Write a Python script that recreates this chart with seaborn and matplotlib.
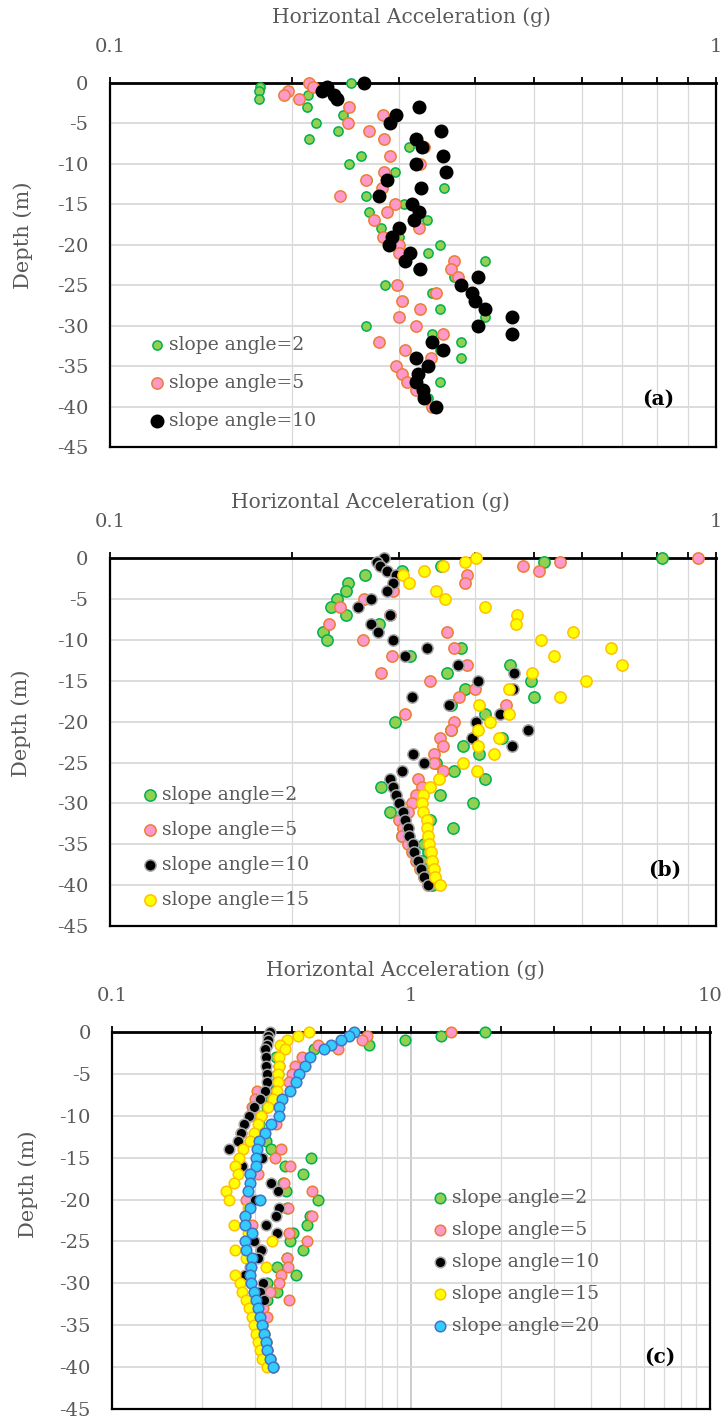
import numpy as np
import pandas as pd
import matplotlib
matplotlib.use("Agg")
import matplotlib.pyplot as plt
from matplotlib.ticker import LogLocator, FuncFormatter, MultipleLocator, NullFormatter
import seaborn as sns

# ---------------------------------------------------------------- data
# depth (m) shared by every profile
depth = [0, -0.5, -1, -1.5, -2] + list(range(-3, -41, -1))

# (a) horizontal acceleration (g)
acc_a_2 = [0.25, 0.177, 0.176, 0.212, 0.176, 0.211, 0.242, 0.219, 0.238, 0.213, 0.311, 0.26, 0.248,
           0.295, 0.266, 0.356, 0.265, 0.306, 0.268, 0.333, 0.28, 0.3, 0.35, 0.335, 0.415, 0.322,
           0.37, 0.284, 0.34, 0.305, 0.35, 0.415, 0.265, 0.34, 0.38, 0.35, 0.38, 0.335, 0.322,
           0.35, 0.32, 0.335, 0.345]
acc_a_5 = [0.213, 0.216, 0.197, 0.194, 0.205, 0.248, 0.282, 0.247, 0.268, 0.283, 0.33, 0.29, 0.325,
           0.283, 0.265, 0.281, 0.24, 0.295, 0.287, 0.273, 0.323, 0.282, 0.3, 0.3, 0.37, 0.365,
           0.375, 0.298, 0.345, 0.303, 0.325, 0.3, 0.32, 0.355, 0.278, 0.307, 0.338, 0.296, 0.303,
           0.309, 0.32, 0.33, 0.34]
acc_a_10 = [0.263, 0.228, 0.224, 0.234, 0.237, 0.323, 0.296, 0.29, 0.352, 0.32, 0.327, 0.355, 0.32,
            0.358, 0.287, 0.326, 0.278, 0.315, 0.323, 0.318, 0.3, 0.292, 0.289, 0.313, 0.307, 0.325,
            0.405, 0.38, 0.395, 0.4, 0.415, 0.46, 0.405, 0.46, 0.34, 0.355, 0.32, 0.335, 0.322,
            0.32, 0.328, 0.33, 0.345]

# (b)
acc_b_2 = [0.815, 0.52, 0.352, 0.303, 0.264, 0.247, 0.245, 0.237, 0.232, 0.245, 0.278, 0.225, 0.228,
           0.38, 0.313, 0.457, 0.36, 0.495, 0.386, 0.5, 0.365, 0.415, 0.295, 0.365, 0.443, 0.382,
           0.406, 0.345, 0.37, 0.415, 0.28, 0.35, 0.397, 0.29, 0.337, 0.368, 0.303, 0.33, 0.335,
           0.327, 0.333, 0.337, 0.34]
acc_b_5 = [0.935, 0.552, 0.48, 0.51, 0.388, 0.386, 0.293, 0.263, 0.24, 0.29, 0.23, 0.36, 0.262,
           0.37, 0.292, 0.388, 0.28, 0.337, 0.4, 0.377, 0.45, 0.307, 0.37, 0.365, 0.35, 0.355,
           0.342, 0.343, 0.355, 0.322, 0.327, 0.32, 0.315, 0.31, 0.3, 0.305, 0.303, 0.31, 0.315,
           0.32, 0.325, 0.33, 0.335]
acc_b_10 = [0.283, 0.276, 0.279, 0.287, 0.297, 0.293, 0.287, 0.27, 0.257, 0.29, 0.27, 0.277, 0.293,
            0.333, 0.307, 0.375, 0.465, 0.405, 0.462, 0.315, 0.362, 0.44, 0.402, 0.49, 0.395, 0.46,
            0.316, 0.33, 0.303, 0.29, 0.293, 0.296, 0.3, 0.305, 0.307, 0.31, 0.311, 0.316, 0.318,
            0.322, 0.326, 0.33, 0.335]
acc_b_15 = [0.402, 0.385, 0.355, 0.33, 0.305, 0.312, 0.345, 0.357, 0.415, 0.47, 0.468, 0.58, 0.515,
            0.671, 0.54, 0.699, 0.497, 0.61, 0.455, 0.553, 0.407, 0.456, 0.424, 0.405, 0.438, 0.405,
            0.43, 0.383, 0.403, 0.349, 0.337, 0.328, 0.327, 0.329, 0.333, 0.334, 0.335, 0.336,
            0.338, 0.34, 0.342, 0.344, 0.35]

# (c)
acc_c_2 = [1.77, 1.257, 0.956, 0.72, 0.472, 0.354, 0.36, 0.358, 0.356, 0.35, 0.34, 0.33, 0.315,
           0.31, 0.305, 0.328, 0.34, 0.463, 0.377, 0.433, 0.372, 0.38, 0.487, 0.385, 0.46, 0.447,
           0.402, 0.392, 0.433, 0.383, 0.355, 0.412, 0.329, 0.355, 0.33, 0.31, 0.315, 0.318,
           0.323, 0.327, 0.33, 0.338, 0.346]
acc_c_5 = [1.355, 0.712, 0.685, 0.488, 0.568, 0.43, 0.41, 0.4, 0.39, 0.305, 0.3, 0.294, 0.29,
           0.352, 0.269, 0.31, 0.368, 0.35, 0.392, 0.307, 0.374, 0.467, 0.281, 0.387, 0.467, 0.293,
           0.389, 0.447, 0.315, 0.384, 0.387, 0.366, 0.361, 0.337, 0.391, 0.32, 0.329, 0.318,
           0.323, 0.327, 0.33, 0.336, 0.344]
acc_c_10 = [0.336, 0.333, 0.331, 0.33, 0.324, 0.328, 0.328, 0.33, 0.33, 0.324, 0.313, 0.298, 0.287,
            0.275, 0.27, 0.264, 0.245, 0.316, 0.272, 0.29, 0.34, 0.359, 0.3, 0.361, 0.353, 0.326,
            0.357, 0.298, 0.314, 0.307, 0.29, 0.278, 0.319, 0.313, 0.322, 0.305, 0.31, 0.316,
            0.322, 0.326, 0.33, 0.336, 0.344]
acc_c_15 = [0.454, 0.419, 0.383, 0.364, 0.379, 0.362, 0.36, 0.358, 0.358, 0.355, 0.344, 0.333, 0.315,
            0.308, 0.298, 0.29, 0.274, 0.266, 0.258, 0.263, 0.256, 0.24, 0.246, 0.285, 0.278, 0.256,
            0.285, 0.341, 0.258, 0.28, 0.326, 0.257, 0.268, 0.272, 0.281, 0.287, 0.293, 0.298,
            0.303, 0.307, 0.312, 0.318, 0.33]
acc_c_20 = [0.643, 0.62, 0.582, 0.538, 0.51, 0.459, 0.44, 0.423, 0.412, 0.393, 0.37, 0.36, 0.36,
            0.34, 0.324, 0.31, 0.305, 0.303, 0.303, 0.29, 0.288, 0.284, 0.312, 0.29, 0.278, 0.277,
            0.293, 0.277, 0.28, 0.293, 0.291, 0.288, 0.292, 0.297, 0.302, 0.308, 0.311, 0.317,
            0.323, 0.327, 0.33, 0.338, 0.346]

labels_a = ["slope angle=2", "slope angle=5", "slope angle=10"]
labels_b = labels_a + ["slope angle=15"]
labels_c = labels_b + ["slope angle=20"]

# ---------------------------------------------------------------- style
sns.set_theme(style="white")
plt.rcParams["font.family"] = ["DejaVu Serif"]
plt.rcParams["axes.unicode_minus"] = False
TXT = "#595959"
GRID = "#D9D9D9"

STYLE = {
    "slope angle=2": dict(fc="#92D050", ec="#00B050"),
    "slope angle=5": dict(fc="#FF99CC", ec="#ED7D31"),
    "slope angle=10": dict(fc="#000000", ec="#000000"),
    "slope angle=15": dict(fc="#FFFF00", ec="#FFC000"),
    "slope angle=20": dict(fc="#33CCFF", ec="#4472C4"),
}

W, H = 721, 1418
fig = plt.figure(figsize=(W / 100, H / 100), dpi=100)


def add_panel(l, r, t, b):
    return fig.add_axes([l / W, 1 - b / H, (r - l) / W, (b - t) / H])


def profile_frame(series, labels):
    parts = [pd.DataFrame({"depth": depth, "acc": vals, "case": lab}) for vals, lab in zip(series, labels)]
    return pd.concat(parts, ignore_index=True)


def draw(ax, df, labels, xmax, sizes, black_edge, tag, tag_xy, leg_xy, leg_space,
         xlabel_xy, ylabel_xy):
    for i, lab in enumerate(labels):
        sub = df[df["case"] == lab]
        st = STYLE[lab]
        ec = black_edge if lab == "slope angle=10" else st["ec"]
        sns.scatterplot(data=sub, x="acc", y="depth", ax=ax, s=sizes[i], color=st["fc"],
                        edgecolor=ec, linewidth=1.1, label=lab, zorder=3 + i, clip_on=False)
    ax.set_xscale("log")
    ax.set_xlim(0.1, xmax)
    ax.set_ylim(-45, 0)

    # axis decorations
    ax.xaxis.tick_top()
    ax.xaxis.set_label_position("top")
    ax.xaxis.set_major_locator(LogLocator(base=10, numticks=5))
    ax.xaxis.set_major_formatter(FuncFormatter(lambda v, p: f"{v:g}"))
    ax.xaxis.set_minor_locator(LogLocator(base=10, subs=np.arange(2, 10), numticks=20))
    ax.xaxis.set_minor_formatter(NullFormatter())
    ax.yaxis.set_major_locator(MultipleLocator(5))
    ax.yaxis.set_minor_locator(MultipleLocator(1))
    ax.tick_params(axis="x", which="both", direction="out", length=4.3, width=1.3,
                   color="black", labelsize=14, labelcolor=TXT, pad=15)
    ax.tick_params(axis="y", which="major", direction="inout", length=11, width=1.4,
                   color="black", labelsize=14, labelcolor=TXT, pad=10)
    ax.tick_params(axis="y", which="minor", direction="out", length=4.3, width=1.3, color="black")

    ax.grid(True, axis="x", which="both", color=GRID, linewidth=0.9, zorder=0)
    ax.grid(True, axis="y", which="major", color=GRID, linewidth=1.3, zorder=0)
    ax.set_axisbelow(True)
    for side in ["top", "bottom", "left", "right"]:
        ax.spines[side].set_visible(True)
        ax.spines[side].set_color("black")
        ax.spines[side].set_linewidth(1.6)
    ax.spines["top"].set_linewidth(2.0)

    ax.set_xlabel("Horizontal Acceleration (g)", fontsize=14.5, color=TXT)
    ax.xaxis.set_label_coords(*xlabel_xy)
    ax.xaxis.label.set_va("center")
    ax.set_ylabel("Depth (m)", fontsize=15, color=TXT)
    ax.yaxis.set_label_coords(*ylabel_xy)
    ax.yaxis.label.set_va("center")

    ax.text(tag_xy[0], tag_xy[1], tag, transform=ax.transAxes, ha="center", va="center",
            fontsize=14.5, fontweight="bold", color="black")

    ax.legend(loc="upper left", bbox_to_anchor=leg_xy, frameon=False, fontsize=13.5,
              labelcolor=TXT, handlelength=1.0, handletextpad=0.15, borderpad=0,
              borderaxespad=0, labelspacing=leg_space)


ax_a = add_panel(110, 716, 82.7, 447)
draw(ax_a, profile_frame([acc_a_2, acc_a_5, acc_a_10], labels_a), labels_a, 1, [44, 66, 80],
     "black", "(a)", (0.904, 0.132), (0.062, 0.304), 1.06, (0.498, 1.18), (-0.144, 0.582))

ax_b = add_panel(110, 716, 558.3, 926)
draw(ax_b, profile_frame([acc_b_2, acc_b_5, acc_b_10, acc_b_15], labels_b), labels_b, 1,
     [66, 66, 66, 66], "#A6A6A6", "(b)", (0.916, 0.152), (0.0505, 0.382), 0.92,
     (0.429, 1.153), (-0.147, 0.552))

ax_c = add_panel(112.3, 710, 1032, 1409)
draw(ax_c, profile_frame([acc_c_2, acc_c_5, acc_c_10, acc_c_15, acc_c_20], labels_c), labels_c, 10,
     [58, 58, 58, 58, 58], "#A6A6A6", "(c)", (0.916, 0.138), (0.5325, 0.5825), 0.74,
     (0.49, 1.164), (-0.141, 0.597))
ax_c.grid(True, axis="x", which="major", color="#C8C8C8", linewidth=1.3, zorder=0)

fig.savefig("out.png", dpi=100)
